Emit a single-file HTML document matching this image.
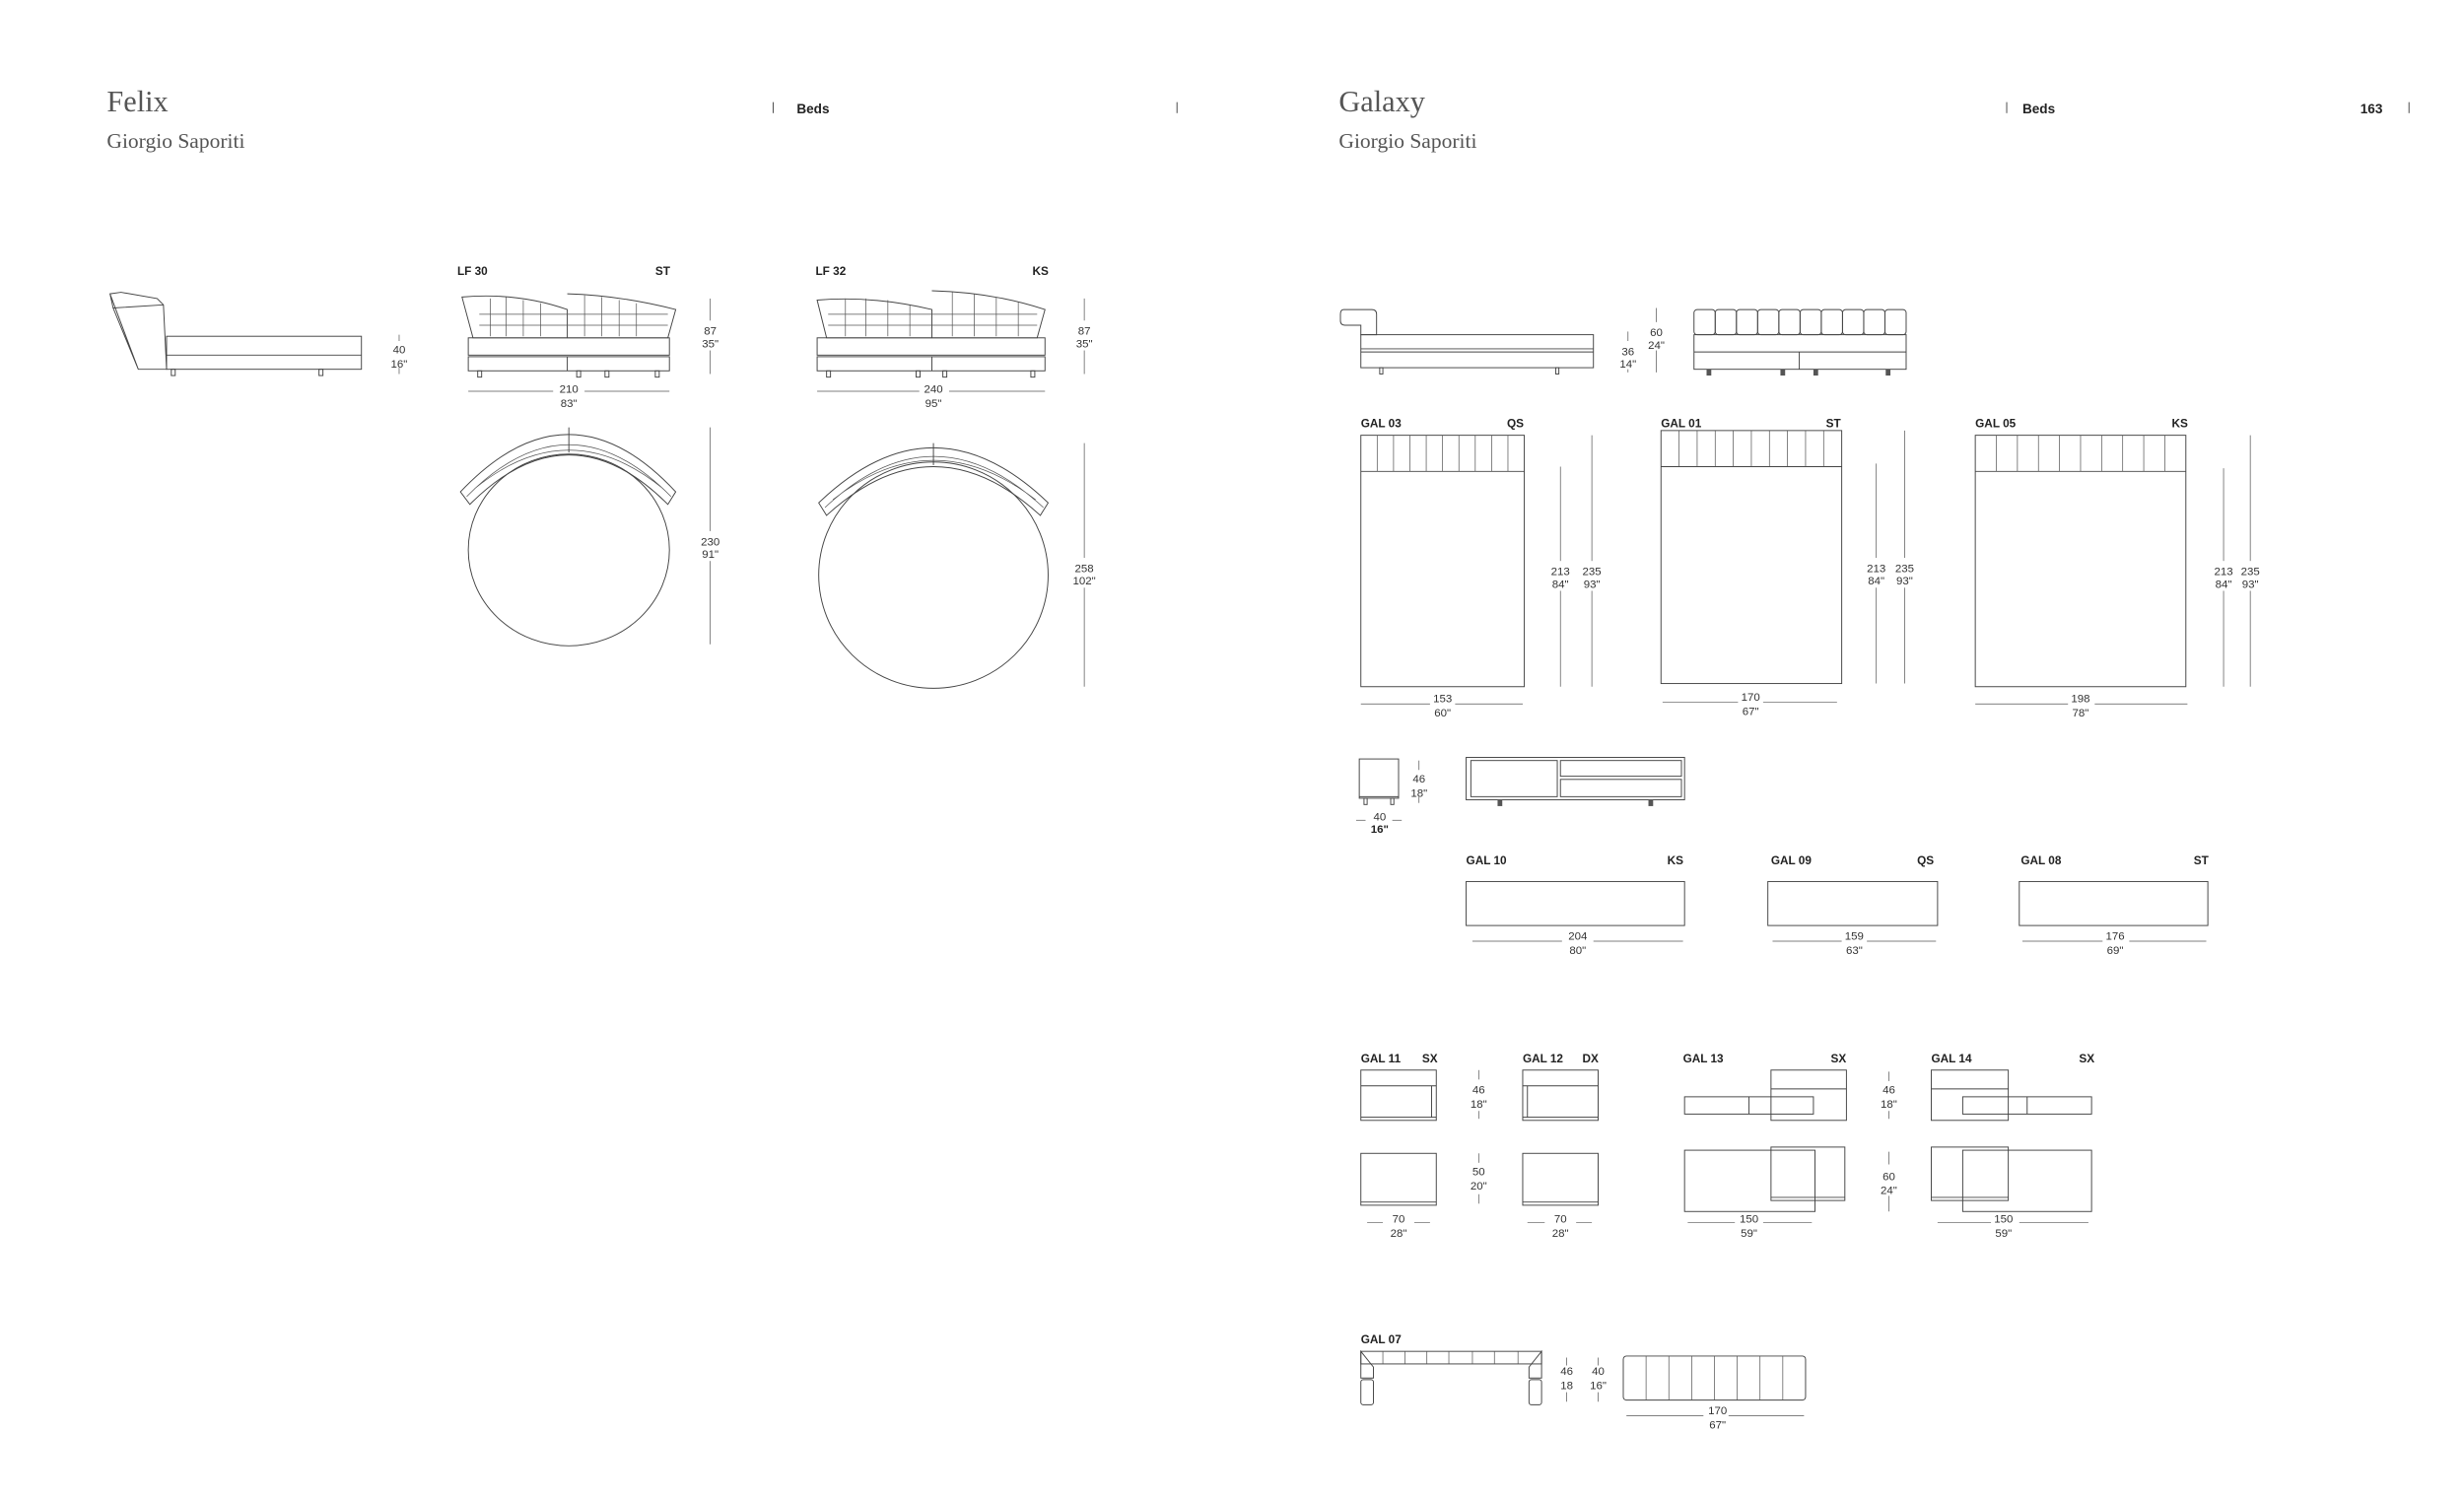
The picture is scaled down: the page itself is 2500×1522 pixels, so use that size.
<!DOCTYPE html>
<html><head><meta charset="utf-8"><style>
html,body{margin:0;padding:0;background:#fff}
svg{display:block}
.l{fill:none;stroke:#444;stroke-width:.6}
.d{fill:none;stroke:#555;stroke-width:.45}
.t{font-family:"Liberation Sans Narrow","Liberation Sans",sans-serif;font-size:7.2px;fill:#333;text-anchor:middle}
.b{font-family:"Liberation Sans Narrow","Liberation Sans",sans-serif;font-size:7.4px;font-weight:bold;fill:#222}
.h{font-family:"Liberation Serif",serif;fill:#555}
</style></head><body>
<svg width="2500" height="1522" viewBox="0 0 1568 954.6" xmlns="http://www.w3.org/2000/svg">
<!-- headers -->
<text class="h" x="68" y="71" font-size="19">Felix</text>
<text class="h" x="68" y="94" font-size="13.5">Giorgio Saporiti</text>
<line class="l" x1="492" y1="65" x2="492" y2="72"/>
<text class="b" x="507" y="72" style="font-size:8.5px">Beds</text>
<line class="l" x1="749" y1="65" x2="749" y2="72"/>
<text class="h" x="852" y="71" font-size="19">Galaxy</text>
<text class="h" x="852" y="94" font-size="13.5">Giorgio Saporiti</text>
<line class="l" x1="1277" y1="65" x2="1277" y2="72"/>
<text class="b" x="1287" y="72" style="font-size:8.5px">Beds</text>
<text class="b" x="1502" y="72" style="font-size:8.5px">163</text>
<line class="l" x1="1533" y1="65" x2="1533" y2="72"/>

<!-- Felix side -->
<path class="l" d="M70 187 L77 186 L100 190 L104 194 L106 235 L88 235 Z M70 187 L72 196 L88 235 M72 196 L104 194"/>
<rect class="l" x="106" y="214" width="124" height="21"/>
<line class="l" x1="106" y1="226" x2="230" y2="226"/>
<rect class="l" x="109" y="235" width="2.5" height="4"/><rect class="l" x="203" y="235" width="2.5" height="4"/>
<line class="d" x1="254" y1="213" x2="254" y2="217"/><line class="d" x1="254" y1="234" x2="254" y2="238"/>
<text class="t" x="254" y="225">40</text><text class="t" x="254" y="234">16"</text>

<!-- LF30 front -->
<text class="b" x="291" y="175">LF 30</text><text class="b" x="417" y="175">ST</text>
<path class="l" d="M294 189 Q330 186 361 197 L361 215 L301 215 Z M361 187 Q395 188 430 197 L425 215 L361 215"/>
<path class="d" d="M305 200 H425 M305 207 H425 M312 190 V214 M322 189 V214 M333 191 V214 M344 193 V214 M372 188 V214 M383 189 V214 M394 191 V214 M405 193 V214"/>
<rect class="l" x="298" y="215" width="128" height="11"/>
<rect class="l" x="298" y="227" width="128" height="9"/>
<line class="l" x1="361" y1="227" x2="361" y2="236"/>
<rect class="l" x="304" y="236" width="2.5" height="4"/><rect class="l" x="367" y="236" width="2.5" height="4"/><rect class="l" x="385" y="236" width="2.5" height="4"/><rect class="l" x="417" y="236" width="2.5" height="4"/>
<line class="d" x1="452" y1="190" x2="452" y2="238"/>
<rect x="444" y="204" width="16" height="19" fill="#fff"/>
<text class="t" x="452" y="213">87</text><text class="t" x="452" y="221">35"</text>
<line class="d" x1="298" y1="249" x2="352" y2="249"/><line class="d" x1="372" y1="249" x2="426" y2="249"/>
<text class="t" x="362" y="250">210</text><text class="t" x="362" y="259">83"</text>

<!-- LF32 front -->
<text class="b" x="519" y="175">LF 32</text><text class="b" x="657" y="175">KS</text>
<path class="l" d="M520 191 Q555 188 593 197 L593 215 L526 215 Z M593 185 Q632 186 665 197 L660 215 L593 215"/>
<path class="d" d="M527 200 H660 M527 207 H660 M538 190 V214 M551 190 V214 M565 191 V214 M579 194 V214 M606 186 V214 M620 187 V214 M634 189 V214 M648 192 V214"/>
<rect class="l" x="520" y="215" width="145" height="11"/>
<rect class="l" x="520" y="227" width="145" height="9"/>
<line class="l" x1="593" y1="227" x2="593" y2="236"/>
<rect class="l" x="526" y="236" width="2.5" height="4"/><rect class="l" x="583" y="236" width="2.5" height="4"/><rect class="l" x="600" y="236" width="2.5" height="4"/><rect class="l" x="656" y="236" width="2.5" height="4"/>
<line class="d" x1="690" y1="190" x2="690" y2="238"/>
<rect x="682" y="204" width="16" height="19" fill="#fff"/>
<text class="t" x="690" y="213">87</text><text class="t" x="690" y="221">35"</text>
<line class="d" x1="520" y1="249" x2="585" y2="249"/><line class="d" x1="604" y1="249" x2="665" y2="249"/>
<text class="t" x="594" y="250">240</text><text class="t" x="594" y="259">95"</text>

<!-- LF30 plan -->
<ellipse class="l" cx="362" cy="350" rx="64" ry="61"/>
<path class="l" d="M293 313 Q362 240 430 313 L425 321 Q362 258 299 321 Z"/>
<path class="d" d="M297 316 Q362 250 427 316 M302 311 Q362 262 422 311"/>
<line class="l" x1="362" y1="272" x2="362" y2="288"/>
<line class="d" x1="452" y1="272" x2="452" y2="410"/>
<rect x="444" y="338" width="16" height="19" fill="#fff"/>
<text class="t" x="452" y="347">230</text><text class="t" x="452" y="355">91"</text>

<!-- LF32 plan -->
<ellipse class="l" cx="594" cy="366" rx="73" ry="72"/>
<path class="l" d="M521 320 Q594 250 667 320 L662 328 Q594 266 526 328 Z"/>
<path class="d" d="M525 323 Q594 258 664 323 M530 318 Q594 268 659 318"/>
<line class="l" x1="594" y1="282" x2="594" y2="296"/>
<line class="d" x1="690" y1="282" x2="690" y2="437"/>
<rect x="682" y="355" width="16" height="19" fill="#fff"/>
<text class="t" x="690" y="364">258</text><text class="t" x="690" y="372">102"</text>

<!-- Galaxy side -->
<path class="l" d="M855 197 H873 Q876 197 876 200 V213 H866 V207 H856 Q853 207 853 204 V200 Q853 197 855 197 Z"/>
<rect class="l" x="866" y="213" width="148" height="21"/>
<line class="l" x1="866" y1="222" x2="1014" y2="222"/>
<line class="l" x1="866" y1="224" x2="1014" y2="224"/>
<rect class="l" x="878" y="234" width="2" height="4"/><rect class="l" x="990" y="234" width="2" height="4"/>
<line class="d" x1="1036" y1="211" x2="1036" y2="237"/>
<rect x="1029" y="217" width="14" height="18" fill="#fff"/>
<text class="t" x="1036" y="226">36</text><text class="t" x="1036" y="234">14"</text>
<line class="d" x1="1054" y1="196" x2="1054" y2="237"/>
<rect x="1047" y="205" width="14" height="18" fill="#fff"/>
<text class="t" x="1054" y="214">60</text><text class="t" x="1054" y="222">24"</text>
<!-- Galaxy front -->
<g class="l">
<rect x="1078" y="213" width="135" height="22"/>
<line x1="1078" y1="224" x2="1213" y2="224"/>
<line x1="1145" y1="224" x2="1145" y2="235"/>
</g>
<g>
<rect class="l" x="1078" y="197" width="13.5" height="16" rx="2"/><rect class="l" x="1091.5" y="197" width="13.5" height="16" rx="2"/><rect class="l" x="1105" y="197" width="13.5" height="16" rx="2"/><rect class="l" x="1118.5" y="197" width="13.5" height="16" rx="2"/><rect class="l" x="1132" y="197" width="13.5" height="16" rx="2"/><rect class="l" x="1145.5" y="197" width="13.5" height="16" rx="2"/><rect class="l" x="1159" y="197" width="13.5" height="16" rx="2"/><rect class="l" x="1172.5" y="197" width="13.5" height="16" rx="2"/><rect class="l" x="1186" y="197" width="13.5" height="16" rx="2"/><rect class="l" x="1199.5" y="197" width="13.5" height="16" rx="2"/>
</g>
<rect x="1086" y="235" width="3" height="4" fill="#555"/><rect x="1133" y="235" width="3" height="4" fill="#555"/><rect x="1154" y="235" width="3" height="4" fill="#555"/><rect x="1200" y="235" width="3" height="4" fill="#555"/>

<!-- GAL 03 -->
<text class="b" x="866" y="272">GAL 03</text><text class="b" x="959" y="272">QS</text>
<rect class="l" x="866" y="277" width="104" height="160"/>
<line class="l" x1="866" y1="300" x2="970" y2="300"/>
<path class="d" d="M876.4 277 V300 M886.8 277 V300 M897.2 277 V300 M907.6 277 V300 M918 277 V300 M928.4 277 V300 M938.8 277 V300 M949.2 277 V300 M959.6 277 V300"/>
<line class="d" x1="993" y1="297" x2="993" y2="437"/><line class="d" x1="1013" y1="277" x2="1013" y2="437"/>
<rect x="985" y="357" width="36" height="19" fill="#fff"/>
<text class="t" x="993" y="366">213</text><text class="t" x="993" y="374">84"</text>
<text class="t" x="1013" y="366">235</text><text class="t" x="1013" y="374">93"</text>
<line class="d" x1="866" y1="448" x2="910" y2="448"/><line class="d" x1="926" y1="448" x2="969" y2="448"/>
<text class="t" x="918" y="447">153</text><text class="t" x="918" y="456">60"</text>

<!-- GAL 01 -->
<text class="b" x="1057" y="272">GAL 01</text><text class="b" x="1162" y="272">ST</text>
<rect class="l" x="1057" y="274" width="115" height="161"/>
<line class="l" x1="1057" y1="297" x2="1172" y2="297"/>
<path class="d" d="M1068.5 274 V297 M1080 274 V297 M1091.5 274 V297 M1103 274 V297 M1114.5 274 V297 M1126 274 V297 M1137.5 274 V297 M1149 274 V297 M1160.5 274 V297"/>
<line class="d" x1="1194" y1="295" x2="1194" y2="435"/><line class="d" x1="1212" y1="274" x2="1212" y2="435"/>
<rect x="1186" y="355" width="34" height="19" fill="#fff"/>
<text class="t" x="1194" y="364">213</text><text class="t" x="1194" y="372">84"</text>
<text class="t" x="1212" y="364">235</text><text class="t" x="1212" y="372">93"</text>
<line class="d" x1="1058" y1="447" x2="1106" y2="447"/><line class="d" x1="1122" y1="447" x2="1169" y2="447"/>
<text class="t" x="1114" y="446">170</text><text class="t" x="1114" y="455">67"</text>

<!-- GAL 05 -->
<text class="b" x="1257" y="272">GAL 05</text><text class="b" x="1382" y="272">KS</text>
<rect class="l" x="1257" y="277" width="134" height="160"/>
<line class="l" x1="1257" y1="300" x2="1391" y2="300"/>
<path class="d" d="M1270.4 277 V300 M1283.8 277 V300 M1297.2 277 V300 M1310.6 277 V300 M1324 277 V300 M1337.4 277 V300 M1350.8 277 V300 M1364.2 277 V300 M1377.6 277 V300"/>
<line class="d" x1="1415" y1="298" x2="1415" y2="437"/><line class="d" x1="1432" y1="277" x2="1432" y2="437"/>
<rect x="1407" y="357" width="34" height="19" fill="#fff"/>
<text class="t" x="1415" y="366">213</text><text class="t" x="1415" y="374">84"</text>
<text class="t" x="1432" y="366">235</text><text class="t" x="1432" y="374">93"</text>
<line class="d" x1="1257" y1="448" x2="1316" y2="448"/><line class="d" x1="1333" y1="448" x2="1392" y2="448"/>
<text class="t" x="1324" y="447">198</text><text class="t" x="1324" y="456">78"</text>

<!-- nightstand & dresser -->
<rect class="l" x="865" y="483" width="25" height="25"/>
<line class="l" x1="865" y1="507" x2="890" y2="507"/>
<rect class="l" x="868" y="508" width="2" height="4"/><rect class="l" x="885" y="508" width="2" height="4"/>
<line class="d" x1="903" y1="484" x2="903" y2="490"/><line class="d" x1="903" y1="507" x2="903" y2="511"/>
<text class="t" x="903" y="498">46</text><text class="t" x="903" y="507">18"</text>
<line class="d" x1="863" y1="522" x2="869" y2="522"/><line class="d" x1="886" y1="522" x2="892" y2="522"/>
<text class="t" x="878" y="522">40</text><text class="t b" x="878" y="530" style="text-anchor:middle;font-size:7.2px">16"</text>
<rect class="l" x="933" y="482" width="139" height="27"/>
<rect class="l" x="936" y="484" width="55" height="23"/>
<rect class="l" x="993" y="484" width="77" height="10"/>
<rect class="l" x="993" y="496" width="77" height="11"/>
<rect x="953" y="509" width="3" height="4" fill="#555"/><rect x="1049" y="509" width="3" height="4" fill="#555"/>

<!-- GAL 10/09/08 -->
<text class="b" x="933" y="550">GAL 10</text><text class="b" x="1061" y="550">KS</text>
<rect class="l" x="933" y="561" width="139" height="28"/>
<line class="d" x1="937" y1="599" x2="994" y2="599"/><line class="d" x1="1014" y1="599" x2="1071" y2="599"/>
<text class="t" x="1004" y="598">204</text><text class="t" x="1004" y="607">80"</text>
<text class="b" x="1127" y="550">GAL 09</text><text class="b" x="1220" y="550">QS</text>
<rect class="l" x="1125" y="561" width="108" height="28"/>
<line class="d" x1="1128" y1="599" x2="1172" y2="599"/><line class="d" x1="1188" y1="599" x2="1232" y2="599"/>
<text class="t" x="1180" y="598">159</text><text class="t" x="1180" y="607">63"</text>
<text class="b" x="1286" y="550">GAL 08</text><text class="b" x="1396" y="550">ST</text>
<rect class="l" x="1285" y="561" width="120" height="28"/>
<line class="d" x1="1287" y1="599" x2="1338" y2="599"/><line class="d" x1="1355" y1="599" x2="1404" y2="599"/>
<text class="t" x="1346" y="598">176</text><text class="t" x="1346" y="607">69"</text>

<!-- GAL 11 -->
<text class="b" x="866" y="676">GAL 11</text><text class="b" x="905" y="676">SX</text>
<rect class="l" x="866" y="681" width="48" height="32"/>
<line class="l" x1="866" y1="691" x2="914" y2="691"/><line class="l" x1="911" y1="691" x2="911" y2="711"/><line class="l" x1="866" y1="711" x2="914" y2="711"/>
<rect class="l" x="866" y="734" width="48" height="33"/><line class="l" x1="866" y1="765" x2="914" y2="765"/>
<line class="d" x1="941" y1="681" x2="941" y2="687"/><line class="d" x1="941" y1="707" x2="941" y2="712"/>
<text class="t" x="941" y="696">46</text><text class="t" x="941" y="705">18"</text>
<line class="d" x1="941" y1="734" x2="941" y2="740"/><line class="d" x1="941" y1="760" x2="941" y2="766"/>
<text class="t" x="941" y="748">50</text><text class="t" x="941" y="757">20"</text>
<line class="d" x1="870" y1="778" x2="880" y2="778"/><line class="d" x1="900" y1="778" x2="910" y2="778"/>
<text class="t" x="890" y="778">70</text><text class="t" x="890" y="787">28"</text>
<!-- GAL 12 -->
<text class="b" x="969" y="676">GAL 12</text><text class="b" x="1007" y="676">DX</text>
<rect class="l" x="969" y="681" width="48" height="32"/>
<line class="l" x1="969" y1="691" x2="1017" y2="691"/><line class="l" x1="972" y1="691" x2="972" y2="711"/><line class="l" x1="969" y1="711" x2="1017" y2="711"/>
<rect class="l" x="969" y="734" width="48" height="33"/><line class="l" x1="969" y1="765" x2="1017" y2="765"/>
<line class="d" x1="972" y1="778" x2="983" y2="778"/><line class="d" x1="1003" y1="778" x2="1013" y2="778"/>
<text class="t" x="993" y="778">70</text><text class="t" x="993" y="787">28"</text>
<!-- GAL 13 -->
<text class="b" x="1071" y="676">GAL 13</text><text class="b" x="1165" y="676">SX</text>
<rect class="l" x="1127" y="681" width="48" height="32"/><line class="l" x1="1127" y1="693" x2="1175" y2="693"/>
<rect class="l" x="1072" y="698" width="82" height="11" fill="#fff"/><line class="l" x1="1113" y1="698" x2="1113" y2="709"/>
<rect class="l" x="1072" y="732" width="83" height="39"/>
<rect class="l" x="1127" y="730" width="47" height="34" fill="#fff"/><line class="l" x1="1127" y1="762" x2="1174" y2="762"/>
<line class="d" x1="1074" y1="778" x2="1104" y2="778"/><line class="d" x1="1122" y1="778" x2="1153" y2="778"/>
<text class="t" x="1113" y="778">150</text><text class="t" x="1113" y="787">59"</text>
<line class="d" x1="1202" y1="682" x2="1202" y2="688"/><line class="d" x1="1202" y1="707" x2="1202" y2="712"/>
<text class="t" x="1202" y="696">46</text><text class="t" x="1202" y="705">18"</text>
<line class="d" x1="1202" y1="733" x2="1202" y2="741"/><line class="d" x1="1202" y1="761" x2="1202" y2="771"/>
<text class="t" x="1202" y="751">60</text><text class="t" x="1202" y="760">24"</text>
<!-- GAL 14 -->
<text class="b" x="1229" y="676">GAL 14</text><text class="b" x="1323" y="676">SX</text>
<rect class="l" x="1229" y="681" width="49" height="32"/><line class="l" x1="1229" y1="693" x2="1278" y2="693"/>
<rect class="l" x="1249" y="698" width="82" height="11" fill="#fff"/><line class="l" x1="1290" y1="698" x2="1290" y2="709"/>
<rect class="l" x="1249" y="732" width="82" height="39"/>
<rect class="l" x="1229" y="730" width="49" height="34" fill="#fff"/><line class="l" x1="1229" y1="762" x2="1278" y2="762"/>
<line class="d" x1="1233" y1="778" x2="1267" y2="778"/><line class="d" x1="1285" y1="778" x2="1329" y2="778"/>
<text class="t" x="1275" y="778">150</text><text class="t" x="1275" y="787">59"</text>

<!-- GAL 07 -->
<text class="b" x="866" y="855">GAL 07</text>
<rect class="l" x="866" y="860" width="115" height="8"/>
<path class="d" d="M880 860 V868 M894 860 V868 M908 860 V868 M922 860 V868 M937 860 V868 M951 860 V868 M966 860 V868"/>
<path class="l" d="M866 860 L874 870 V877 H866 Z M981 860 L973 870 V877 H981 Z"/>
<rect class="l" x="866" y="878" width="8" height="16" rx="1.5"/><rect class="l" x="973" y="878" width="8" height="16" rx="1.5"/>
<line class="d" x1="997" y1="864" x2="997" y2="869"/><line class="d" x1="997" y1="886" x2="997" y2="892"/>
<text class="t" x="997" y="875">46</text><text class="t" x="997" y="884">18</text>
<line class="d" x1="1017" y1="864" x2="1017" y2="869"/><line class="d" x1="1017" y1="886" x2="1017" y2="892"/>
<text class="t" x="1017" y="875">40</text><text class="t" x="1017" y="884">16"</text>
<rect class="l" x="1033" y="863" width="116" height="28" rx="2"/>
<path class="d" d="M1047.5 863 V891 M1062 863 V891 M1076.5 863 V891 M1091 863 V891 M1105.5 863 V891 M1120 863 V891 M1134.5 863 V891"/>
<line class="d" x1="1035" y1="901" x2="1084" y2="901"/><line class="d" x1="1100" y1="901" x2="1148" y2="901"/>
<text class="t" x="1093" y="900">170</text><text class="t" x="1093" y="909">67"</text>
</svg>
</body></html>
